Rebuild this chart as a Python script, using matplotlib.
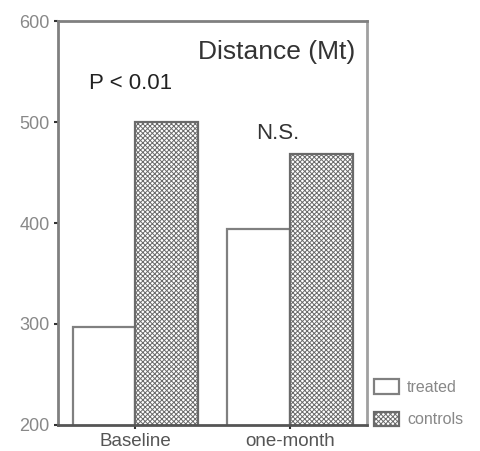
import matplotlib
matplotlib.use("Agg")
import matplotlib.pyplot as plt
import numpy as np

categories = ["Baseline", "one-month"]
treated = [297, 394]
controls = [500, 468]
yticks = [200, 300, 400, 500, 600]
annotations = ["P < 0.01", "N.S."]

plt.rcParams['hatch.linewidth'] = 0.7
plt.rcParams['hatch.color'] = '#a6a6a6'
plt.rcParams['font.family'] = ['Liberation Sans', 'DejaVu Sans']

fig = plt.figure(figsize=(4.8, 4.51), dpi=100)
ax = fig.add_axes([0.121, 0.058, 0.644, 0.895])

x = np.arange(len(categories))
w = 0.405
b1 = ax.bar(x - w/2, treated, w, color='white', edgecolor='#808080', linewidth=1.6, label='treated')
b2 = ax.bar(x + w/2, controls, w, color='white', edgecolor='#6a6a6a', linewidth=1.6,
            hatch='xxxxxxx', label='controls')

ax.set_xlim(-0.5, 1.5)
ax.set_ylim(200, 600)
ax.set_yticks(yticks)
ax.set_xticks(x)
ax.set_xticklabels(categories)
for s in ax.spines.values():
    s.set_color('#808080')
    s.set_linewidth(2)
ax.spines['right'].set_color('#a0a0a0')
ax.spines['bottom'].set_color('#555555')
ax.tick_params(axis='both', colors='#333333', labelcolor='#888888', labelsize=13,
               length=3, width=1.5, direction='out', pad=3)
ax.tick_params(axis='x', labelcolor='#555555', labelsize=13.5, pad=3)

ax.text(0.961, 0.923, "Distance (Mt)", transform=ax.transAxes, ha='right', va='center',
        fontsize=19, color='#333333')
ax.text(-0.03, 538, annotations[0], ha='center', va='center', fontsize=16, color='#222222')
ax.text(0.92, 489, annotations[1], ha='center', va='center', fontsize=16, color='#333333')

ax.legend(loc='lower left', bbox_to_anchor=(0.99, -0.03), frameon=False, fontsize=11.5,
          handlelength=1.6, handleheight=1.0, labelspacing=1.05, handletextpad=0.5,
          labelcolor='#888888', borderaxespad=0.2)

fig.savefig("out.png", dpi=100)
